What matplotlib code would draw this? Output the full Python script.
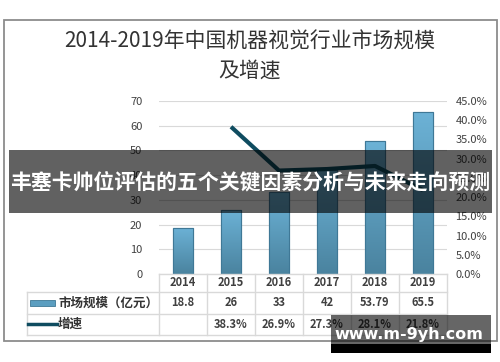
import numpy as np
import matplotlib.pyplot as plt
import matplotlib.transforms as mtransforms
from matplotlib.patches import Rectangle
from matplotlib.lines import Line2D
from matplotlib.colors import LinearSegmentedColormap

plt.rcParams['font.family'] = ['Noto Sans CJK SC', 'DejaVu Sans']

years = ['2014', '2015', '2016', '2017', '2018', '2019']
market = [18.8, 26, 33, 42, 53.79, 65.5]
market_txt = ['18.8', '26', '33', '42', '53.79', '65.5']
growth = [None, 38.3, 26.9, 27.3, 28.1, 21.8]
growth_txt = ['', '38.3%', '26.9%', '27.3%', '28.1%', '21.8%']
left_ticks = [0, 10, 20, 30, 40, 50, 60, 70]
right_ticks = [0, 5, 10, 15, 20, 25, 30, 35, 40, 45]

W, H = 500, 362
fig = plt.figure(figsize=(W / 100, H / 100), dpi=100)

def fx(x):
    return x / W

def fy(y):
    return 1 - y / H

TXT = '#404040'
GRID = '#d9d9d9'

# outer frame
fig.patches.append(Rectangle((fx(4), fy(341)), fx(493), (341 - 20) / H,
                             transform=fig.transFigure, fill=False,
                             edgecolor='#8c8c8c', lw=1.3, zorder=1))

fig.text(0.5, fy(42), '2014-2019年中国机器视觉行业市场规模', ha='center', va='center',
         fontsize=15, color='#333333')
fig.text(0.5, fy(71), '及增速', ha='center', va='center', fontsize=15, color='#333333')

# main axes
ax = fig.add_axes([fx(159), fy(274), fx(447 - 159), (274 - 101) / H])
x = np.arange(len(years))
ax.set_yticks(left_ticks)
ax.set_xticks([])
ax.grid(axis='y', color=GRID, lw=0.8)
ax.set_axisbelow(True)
for s in ax.spines.values():
    s.set_visible(False)
ax.tick_params(axis='y', length=0, labelsize=8, labelcolor=TXT, pad=12)

bars = ax.bar(x, market, width=0.42, color='#5b9ec0', edgecolor='#3f7896', lw=0.8, zorder=2)
grad = np.linspace(0, 1, 100).reshape(-1, 1)
cmap = LinearSegmentedColormap.from_list('b', ['#4a839f', '#6cb2d6'])
for b in bars:
    bx, by = b.get_x(), b.get_y()
    im = ax.imshow(grad, cmap=cmap, aspect='auto', origin='lower',
                   extent=[bx, bx + b.get_width(), by, by + b.get_height()], zorder=2.5)
    im.set_clip_path(b)
    ax.add_patch(Rectangle((bx, by), b.get_width(), b.get_height(), fill=False,
                           edgecolor='#3f7896', lw=0.8, zorder=3))
ax.set_xlim(-0.5, len(years) - 0.5)
ax.set_ylim(0, 70)

ax2 = ax.twinx()
ax2.set_ylim(0, 45)
ax2.set_yticks(right_ticks)
ax2.set_yticklabels([f'{v:.1f}%' for v in right_ticks])
for s in ax2.spines.values():
    s.set_visible(False)
ax2.tick_params(axis='y', length=0, labelsize=8, labelcolor=TXT, pad=6)
gx = [i for i, g in enumerate(growth) if g is not None]
gy = [g for g in growth if g is not None]
ax2.plot(gx, gy, color='#0f4c60', lw=3, solid_capstyle='butt', zorder=4)

# data table below the axes
bt = mtransforms.blended_transform_factory(ax.transData, fig.transFigure)
ft = fig.transFigure
bounds = [i - 0.5 for i in range(len(years) + 1)]
fig.add_artist(Line2D([bounds[0], bounds[-1]], [fy(274)] * 2, transform=bt, color=GRID, lw=1))
for y in (292, 314, 335):
    fig.add_artist(Line2D([fx(27), fx(447)], [fy(y)] * 2, transform=ft, color=GRID, lw=1))
for b in bounds:
    fig.add_artist(Line2D([b, b], [fy(274), fy(335)], transform=bt, color=GRID, lw=1))
fig.add_artist(Line2D([fx(27), fx(27)], [fy(292), fy(335)], transform=ft, color=GRID, lw=1))

for i in range(len(years)):
    fig.text(i, fy(283), years[i], transform=bt, ha='center', va='center', fontsize=8,
             color=TXT, fontweight='bold')
    fig.text(i, fy(303), market_txt[i], transform=bt, ha='center', va='center', fontsize=8,
             color=TXT, fontweight='bold')
    fig.text(i, fy(324), growth_txt[i], transform=bt, ha='center', va='center', fontsize=8,
             color=TXT, fontweight='bold')

fig.patches.append(Rectangle((fx(30), fy(305.5)), fx(25), 6 / H, transform=ft,
                             facecolor='#5b9ec0', edgecolor='#3f7896', lw=0.6))
fig.add_artist(Line2D([fx(28), fx(57)], [fy(323.5)] * 2, transform=ft, color='#0f4c60', lw=2.5))
fig.text(fx(58), fy(303), '市场规模（亿元）', ha='left', va='center', fontsize=9,
         color='#333333', fontweight='bold')
fig.text(fx(58), fy(324), '增速', ha='left', va='center', fontsize=9,
         color='#333333', fontweight='bold')

# overlay banner
fig.patches.append(Rectangle((fx(9), fy(213)), fx(483), 63 / H, transform=ft,
                             facecolor='black', alpha=0.62, lw=0, zorder=10))
fig.text(0.5, fy(182), '丰塞卡帅位评估的五个关键因素分析与未来走向预测', ha='center', va='center',
         fontsize=15, color='white', fontweight='bold', zorder=11)

# watermark box
fig.patches.append(Rectangle((fx(331), fy(344)), fx(160), 29 / H, transform=ft,
                             facecolor='black', alpha=0.6, lw=0, zorder=10))
fig.patches.append(Rectangle((fx(331), fy(353)), fx(160), 9 / H, transform=ft,
                             facecolor='black', lw=0, zorder=10))
fig.text(fx(409), fy(335), 'www.m-9yh.com', ha='center', va='center', fontsize=11.5,
         color='white', fontweight='bold', family='DejaVu Sans', zorder=11)

fig.savefig('out.png', dpi=100)
